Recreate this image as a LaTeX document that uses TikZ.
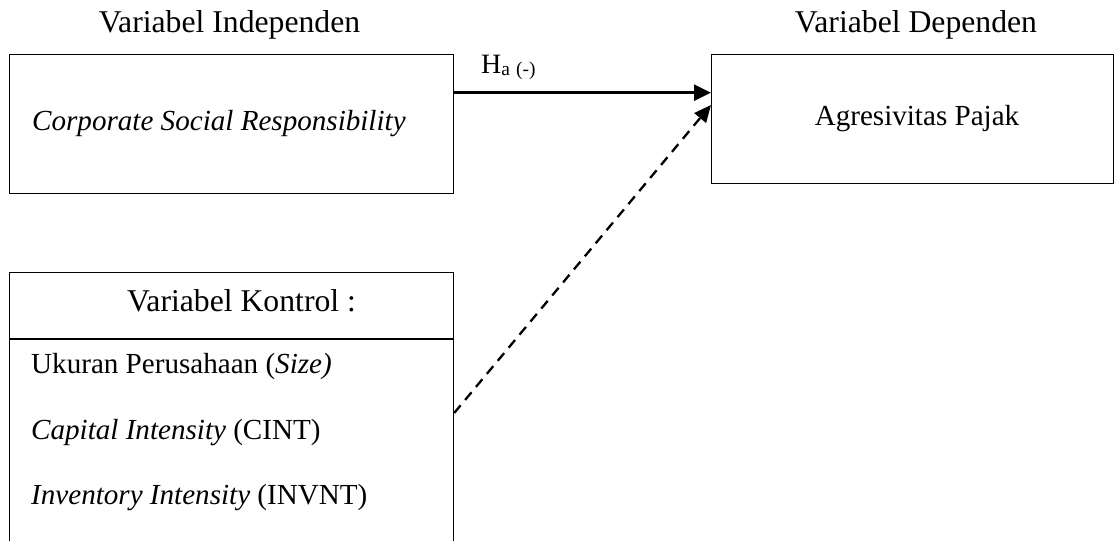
\documentclass[tikz,border=0pt]{standalone}
\usepackage{fontspec}
\setmainfont{Liberation Serif}
\usetikzlibrary{arrows.meta}
\begin{document}
\begin{tikzpicture}[x=1bp,y=-1bp,
  big/.style={font=\fontsize{31.7bp}{38bp}\selectfont, inner sep=0pt},
  txt/.style={font=\fontsize{29.1bp}{35bp}\selectfont, inner sep=0pt},
  box/.style={draw=black, line width=1.2bp, inner sep=0pt},
  solidarrow/.style={line width=2.8bp, -{Triangle[length=17bp,width=16bp]}},
  dasharrow/.style={line width=2.3bp, dash pattern=on 10bp off 7bp, -{Triangle[length=17bp,width=15bp]}}]
\useasboundingbox (0,0) rectangle (1114,541);
\clip (0,0) rectangle (1114,541);
% titles
\node[big] (indep) at (229.5,25) {Variabel Independen};
\node[big] (dep) at (916,25) {Variabel Dependen};
% CSR box
\node[box, minimum width=444bp, minimum height=139bp, anchor=north west] (csr) at (9,54) {};
\node[txt, anchor=west] (csrtext) at (32,123.5) {\textit{Corporate Social Responsibility}};
% dependent box
\node[box, minimum width=401.5bp, minimum height=129bp, anchor=north west] (agr) at (711,54) {};
\node[txt] (agrtext) at (917,118.5) {Agresivitas Pajak};
% control box
\node[box, minimum width=444bp, minimum height=300bp, anchor=north west] (kon) at (9,272) {};
\draw[line width=1.2bp] ([yshift=-67bp]kon.north west) -- ([yshift=-67bp]kon.north east);
\node[big] (kontitle) at (241.5,301) {Variabel Kontrol :};
\node[txt, anchor=west] (size) at (31,367) {Ukuran Perusahaan (\textit{Size)}};
\node[txt, anchor=west] (cint) at (31,433) {\textit{Capital Intensity} (CINT)};
\node[txt, anchor=west] (invnt) at (31,498) {\textit{Inventory Intensity} (INVNT)};
% arrows
\draw[solidarrow] ([yshift=-38.7bp]csr.north east) -- ([yshift=-38.7bp]agr.north west);
\node[anchor=base west, inner sep=0pt] (ha) at (481,74)
  {{\fontsize{28bp}{32bp}\selectfont H}\raisebox{-2bp}{\fontsize{19.5bp}{22bp}\selectfont a\hspace{6bp}(-)}};
\draw[dasharrow] ([yshift=-141bp]kon.north east) -- ([yshift=-51bp]agr.north west);
\end{tikzpicture}
\end{document}
